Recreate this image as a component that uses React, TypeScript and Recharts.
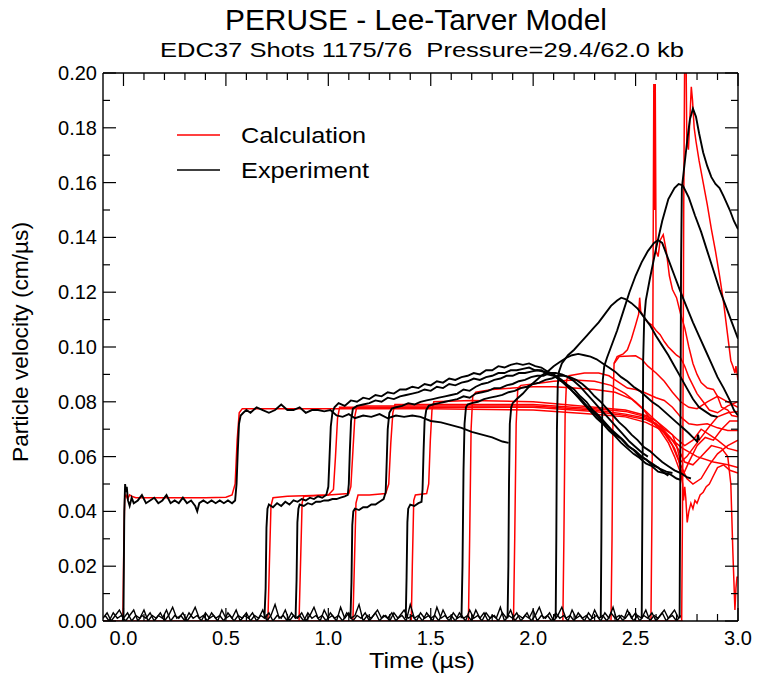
import React from "react";
import { LineChart, Line, XAxis, YAxis } from "recharts";

type P = [number, number];

const xTicks = [0, 0.1, 0.2, 0.3, 0.4, 0.5, 0.6, 0.7, 0.8, 0.9, 1.0, 1.1, 1.2, 1.3, 1.4, 1.5, 1.6, 1.7, 1.8, 1.9, 2.0, 2.1, 2.2, 2.3, 2.4, 2.5, 2.6, 2.7, 2.8, 2.9, 3.0];
const xMajor = [0, 0.5, 1.0, 1.5, 2.0, 2.5, 3.0];
const yTicks = [0, 0.01, 0.02, 0.03, 0.04, 0.05, 0.06, 0.07, 0.08, 0.09, 0.1, 0.11, 0.12, 0.13, 0.14, 0.15, 0.16, 0.17, 0.18, 0.19, 0.2];
const yMajor = [0, 0.02, 0.04, 0.06, 0.08, 0.1, 0.12, 0.14, 0.16, 0.18, 0.2];

// ---------- Experiment (black) ----------
const baseNoise: P[] = [
  [-0.1, 0.001], [-0.08, 0.003], [-0.06, 0], [-0.04, 0.002], [-0.02, 0.004], [0, 0.001], [0.02, 0.003], [0.04, 0], [0.06, 0.002], [0.08, 0.001],
  [0.1, 0.004], [0.12, 0], [0.14, 0.002], [0.16, 0.001], [0.18, 0.003], [0.2, 0], [0.22, 0.002], [0.24, 0.005], [0.26, 0.001], [0.28, 0.002],
  [0.3, 0], [0.32, 0.003], [0.34, 0.001], [0.36, 0.002], [0.38, 0], [0.4, 0.003], [0.42, 0.001], [0.44, 0.002], [0.46, 0], [0.48, 0.004],
  [0.5, 0.001], [0.52, 0.002], [0.54, 0], [0.56, 0.002], [0.58, 0.001], [0.6, 0.003], [0.62, 0], [0.64, 0.002], [0.66, 0.001], [0.68, 0.004],
  [0.7, 0], [0.72, 0.002], [0.74, 0.006], [0.76, 0.001], [0.78, 0.002], [0.8, 0], [0.82, 0.003], [0.84, 0.001], [0.86, 0.002], [0.88, 0],
  [0.9, 0.003], [0.92, 0.001], [0.94, 0.002], [0.96, 0], [0.98, 0.004], [1.0, 0.001], [1.02, 0.002], [1.04, 0], [1.06, 0.005], [1.08, 0.001],
  [1.1, 0.003], [1.12, 0], [1.14, 0.002], [1.16, 0.001], [1.18, 0.003], [1.2, 0], [1.22, 0.002], [1.24, 0.004], [1.26, 0.001], [1.28, 0.002],
  [1.3, 0], [1.32, 0.003], [1.34, 0.001], [1.36, 0.002], [1.38, 0], [1.4, 0.006], [1.42, 0.001], [1.44, 0.002], [1.46, 0], [1.48, 0.003],
  [1.5, 0.001], [1.52, 0.002], [1.54, 0], [1.56, 0.004], [1.58, 0.001], [1.6, 0.002], [1.62, 0], [1.64, 0.003], [1.66, 0.001], [1.68, 0.002],
  [1.7, 0], [1.72, 0.004], [1.74, 0.001], [1.76, 0.003], [1.78, 0], [1.8, 0.002], [1.82, 0.001], [1.84, 0.005], [1.86, 0], [1.88, 0.002],
  [1.9, 0.001], [1.92, 0.003], [1.94, 0], [1.96, 0.002], [1.98, 0.001], [2.0, 0.004], [2.02, 0], [2.04, 0.002], [2.06, 0.001], [2.08, 0.003],
  [2.1, 0], [2.12, 0.002], [2.14, 0.005], [2.16, 0.001], [2.18, 0.002], [2.2, 0], [2.22, 0.003], [2.24, 0.001], [2.26, 0.002], [2.28, 0],
  [2.3, 0.004], [2.32, 0.001], [2.34, 0.002], [2.36, 0], [2.38, 0.003], [2.4, 0.001], [2.42, 0.002], [2.44, 0], [2.46, 0.004], [2.48, 0.001],
  [2.5, 0.003], [2.52, 0], [2.54, 0.002], [2.56, 0.001], [2.58, 0.003], [2.6, 0], [2.62, 0.002], [2.64, 0.004], [2.66, 0.001], [2.68, 0.002],
  [2.7, 0], [2.72, 0.002],
];

const baseNoise2: P[] = [
  [-0.09, 0.002], [-0.07, 0], [-0.05, 0.003], [-0.03, 0.001], [-0.01, 0.002], [0.01, 0], [0.03, 0.002], [0.05, 0.004], [0.07, 0], [0.09, 0.002],
  [0.11, 0.001], [0.13, 0.003], [0.15, 0], [0.17, 0.002], [0.19, 0.001], [0.21, 0.004], [0.23, 0], [0.25, 0.002], [0.27, 0.001], [0.29, 0.003],
  [0.31, 0], [0.33, 0.002], [0.35, 0.005], [0.37, 0.001], [0.39, 0.002], [0.41, 0], [0.43, 0.003], [0.45, 0.001], [0.47, 0.002], [0.49, 0],
  [0.51, 0.003], [0.53, 0.001], [0.55, 0.004], [0.57, 0], [0.59, 0.002], [0.61, 0.001], [0.63, 0.003], [0.65, 0], [0.67, 0.002], [0.69, 0.001],
  [0.71, 0.003], [0.73, 0], [0.75, 0.002], [0.77, 0.001], [0.79, 0.004], [0.81, 0], [0.83, 0.002], [0.85, 0.001], [0.87, 0.003], [0.89, 0],
  [0.91, 0.002], [0.93, 0.005], [0.95, 0.001], [0.97, 0.002], [0.99, 0], [1.01, 0.003], [1.03, 0.001], [1.05, 0.002], [1.07, 0], [1.09, 0.003],
  [1.11, 0.001], [1.13, 0.002], [1.15, 0.006], [1.17, 0], [1.19, 0.002], [1.21, 0.001], [1.23, 0.003], [1.25, 0], [1.27, 0.002], [1.29, 0.001],
  [1.31, 0.003], [1.33, 0], [1.35, 0.002], [1.37, 0.004], [1.39, 0.001], [1.41, 0.002], [1.43, 0], [1.45, 0.003], [1.47, 0.001], [1.49, 0.002],
  [1.51, 0], [1.53, 0.005], [1.55, 0.001], [1.57, 0.002], [1.59, 0], [1.61, 0.003], [1.63, 0.001], [1.65, 0.002], [1.67, 0], [1.69, 0.004],
  [1.71, 0.001], [1.73, 0.002], [1.75, 0], [1.77, 0.003], [1.79, 0.001], [1.81, 0.002], [1.83, 0], [1.85, 0.003], [1.87, 0.001], [1.89, 0.004],
  [1.91, 0], [1.93, 0.002], [1.95, 0.001], [1.97, 0.003], [1.99, 0], [2.01, 0.002], [2.03, 0.005], [2.05, 0.001], [2.07, 0.002], [2.09, 0],
  [2.11, 0.003], [2.13, 0.001], [2.15, 0.002], [2.17, 0], [2.19, 0.004], [2.21, 0.001], [2.23, 0.002], [2.25, 0], [2.27, 0.003], [2.29, 0.001],
  [2.31, 0.002], [2.33, 0], [2.35, 0.003], [2.37, 0.001], [2.39, 0.005], [2.41, 0], [2.43, 0.002], [2.45, 0.001], [2.47, 0.003], [2.49, 0],
  [2.51, 0.002], [2.53, 0.001], [2.55, 0.004], [2.57, 0], [2.59, 0.002], [2.61, 0.001], [2.63, 0.003], [2.65, 0], [2.67, 0.002], [2.69, 0.004],
  [2.71, 0.001],
];

const exp1: P[] = [
  [-0.004, 0], [0, 0.002], [0.004, 0.04], [0.008, 0.05], [0.012, 0.047], [0.016, 0.049], [0.022, 0.044], [0.03, 0.042], [0.04, 0.045], [0.05, 0.043],
  [0.07, 0.044], [0.09, 0.046], [0.11, 0.043], [0.13, 0.044], [0.15, 0.045], [0.17, 0.043], [0.19, 0.044], [0.21, 0.046], [0.23, 0.043], [0.25, 0.044],
  [0.27, 0.043], [0.29, 0.045], [0.31, 0.043], [0.33, 0.044], [0.35, 0.042], [0.36, 0.040], [0.37, 0.043], [0.39, 0.044], [0.41, 0.043], [0.43, 0.044],
  [0.45, 0.043], [0.47, 0.044], [0.49, 0.043], [0.51, 0.044], [0.53, 0.043], [0.545, 0.044], [0.552, 0.05], [0.558, 0.062], [0.564, 0.072], [0.572, 0.075],
  [0.585, 0.076], [0.6, 0.077], [0.62, 0.076], [0.65, 0.078], [0.68, 0.077], [0.71, 0.076], [0.74, 0.077], [0.77, 0.079], [0.8, 0.077], [0.83, 0.077],
  [0.86, 0.078], [0.89, 0.076], [0.92, 0.077], [0.95, 0.077], [0.98, 0.0765], [1.01, 0.077], [1.04, 0.075], [1.07, 0.0745], [1.1, 0.0755], [1.13, 0.074],
  [1.17, 0.075], [1.21, 0.0745], [1.25, 0.0755], [1.29, 0.074], [1.33, 0.075], [1.37, 0.0745], [1.41, 0.075], [1.45, 0.0745], [1.5, 0.073], [1.55, 0.0725],
  [1.6, 0.0715], [1.65, 0.0705], [1.7, 0.069], [1.75, 0.068], [1.8, 0.067], [1.85, 0.0655], [1.88, 0.065],
];

const exp2: P[] = [
  [0.688, 0.001], [0.694, 0.012], [0.698, 0.034], [0.703, 0.041], [0.71, 0.0425], [0.73, 0.0415], [0.75, 0.043], [0.77, 0.042], [0.79, 0.0435], [0.81, 0.0425],
  [0.83, 0.044], [0.85, 0.0435], [0.87, 0.0445], [0.89, 0.044], [0.91, 0.045], [0.93, 0.0445], [0.95, 0.0455], [0.97, 0.045], [0.99, 0.046], [1.0, 0.049],
  [1.006, 0.06], [1.012, 0.071], [1.02, 0.076], [1.03, 0.078], [1.05, 0.0795], [1.08, 0.0785], [1.11, 0.0805], [1.14, 0.08], [1.17, 0.0815], [1.2, 0.081],
  [1.23, 0.0825], [1.26, 0.082], [1.29, 0.0835], [1.32, 0.083], [1.35, 0.0845], [1.38, 0.0845], [1.41, 0.0855], [1.44, 0.085], [1.47, 0.0865], [1.5, 0.086],
  [1.53, 0.0875], [1.56, 0.087], [1.59, 0.0885], [1.62, 0.088], [1.65, 0.089], [1.68, 0.0895], [1.71, 0.0905], [1.74, 0.09], [1.77, 0.0915], [1.8, 0.0915],
  [1.83, 0.093], [1.86, 0.0925], [1.89, 0.0935], [1.92, 0.094], [1.95, 0.0935], [1.98, 0.094], [2.01, 0.093], [2.04, 0.0925], [2.07, 0.091], [2.1, 0.09],
  [2.13, 0.088], [2.16, 0.0865], [2.19, 0.084], [2.22, 0.082], [2.25, 0.0795], [2.28, 0.077], [2.31, 0.075], [2.34, 0.0725], [2.37, 0.0705], [2.4, 0.068],
  [2.43, 0.0665], [2.46, 0.064], [2.49, 0.0625], [2.52, 0.06], [2.55, 0.059], [2.58, 0.057], [2.61, 0.056], [2.64, 0.054], [2.67, 0.0535], [2.7, 0.052], [2.72, 0.0515],
];

const exp3: P[] = [
  [0.84, 0.001], [0.845, 0.015], [0.849, 0.036], [0.854, 0.041], [0.86, 0.0425], [0.88, 0.042], [0.9, 0.043], [0.92, 0.0425], [0.94, 0.0435], [0.96, 0.0435],
  [0.98, 0.044], [1.0, 0.044], [1.02, 0.0445], [1.04, 0.0445], [1.06, 0.045], [1.08, 0.0455], [1.095, 0.046], [1.1, 0.05], [1.105, 0.062], [1.111, 0.073],
  [1.12, 0.0775], [1.14, 0.0785], [1.17, 0.079], [1.2, 0.0795], [1.23, 0.0805], [1.26, 0.08], [1.29, 0.0815], [1.32, 0.081], [1.35, 0.082], [1.38, 0.0825],
  [1.41, 0.083], [1.44, 0.0835], [1.47, 0.0845], [1.5, 0.084], [1.53, 0.0855], [1.56, 0.085], [1.59, 0.0865], [1.62, 0.086], [1.65, 0.087], [1.68, 0.0875],
  [1.71, 0.0885], [1.74, 0.088], [1.77, 0.089], [1.8, 0.0895], [1.83, 0.0905], [1.86, 0.0905], [1.89, 0.0915], [1.92, 0.0915], [1.95, 0.092], [1.98, 0.0925],
  [2.01, 0.0915], [2.04, 0.0915], [2.07, 0.09], [2.1, 0.0895], [2.13, 0.088], [2.16, 0.086], [2.19, 0.084], [2.22, 0.0815], [2.25, 0.079], [2.28, 0.0765],
  [2.31, 0.074], [2.34, 0.072], [2.37, 0.0695], [2.4, 0.0675], [2.43, 0.065], [2.46, 0.063], [2.49, 0.061], [2.52, 0.0595], [2.55, 0.0575], [2.58, 0.0565],
  [2.61, 0.0545], [2.64, 0.054], [2.66, 0.053],
];

const exp4: P[] = [
  [1.108, 0.001], [1.113, 0.014], [1.117, 0.035], [1.122, 0.04], [1.13, 0.041], [1.15, 0.0405], [1.17, 0.0415], [1.19, 0.0415], [1.21, 0.0425], [1.23, 0.0425],
  [1.25, 0.0435], [1.27, 0.0445], [1.28, 0.047], [1.285, 0.058], [1.29, 0.07], [1.298, 0.076], [1.31, 0.0775], [1.33, 0.078], [1.36, 0.0785], [1.39, 0.0795],
  [1.42, 0.079], [1.45, 0.08], [1.48, 0.0805], [1.51, 0.081], [1.54, 0.0815], [1.57, 0.082], [1.6, 0.0825], [1.63, 0.083], [1.66, 0.0845], [1.69, 0.084],
  [1.72, 0.0855], [1.75, 0.0865], [1.78, 0.087], [1.81, 0.088], [1.84, 0.0885], [1.87, 0.0895], [1.9, 0.0895], [1.93, 0.0905], [1.96, 0.0905], [1.99, 0.091],
  [2.02, 0.0915], [2.05, 0.091], [2.08, 0.0905], [2.11, 0.0895], [2.14, 0.088], [2.17, 0.086], [2.2, 0.0845], [2.23, 0.082], [2.26, 0.08], [2.29, 0.077],
  [2.32, 0.075], [2.35, 0.0725], [2.38, 0.07], [2.41, 0.068], [2.44, 0.066], [2.47, 0.0635], [2.5, 0.062], [2.53, 0.06], [2.56, 0.0585], [2.59, 0.057],
  [2.62, 0.0555], [2.65, 0.0545], [2.68, 0.054],
];

const exp5: P[] = [
  [1.378, 0.001], [1.382, 0.016], [1.386, 0.036], [1.39, 0.041], [1.4, 0.0425], [1.42, 0.042], [1.44, 0.043], [1.455, 0.0435], [1.46, 0.048], [1.465, 0.062],
  [1.47, 0.073], [1.478, 0.077], [1.49, 0.0785], [1.51, 0.079], [1.54, 0.0795], [1.57, 0.08], [1.6, 0.0805], [1.63, 0.081], [1.66, 0.082], [1.69, 0.0815],
  [1.72, 0.083], [1.75, 0.0835], [1.78, 0.084], [1.81, 0.085], [1.84, 0.085], [1.87, 0.086], [1.9, 0.0865], [1.93, 0.0875], [1.96, 0.088], [1.99, 0.089],
  [2.02, 0.0895], [2.05, 0.0895], [2.08, 0.0905], [2.11, 0.0905], [2.14, 0.09], [2.17, 0.089], [2.2, 0.0875], [2.23, 0.0855], [2.26, 0.083], [2.29, 0.0805],
  [2.32, 0.078], [2.35, 0.0755], [2.38, 0.073], [2.41, 0.0705], [2.44, 0.068], [2.47, 0.0655], [2.5, 0.0635], [2.53, 0.0615], [2.56, 0.06],
];

const exp6: P[] = [
  [1.65, 0.001], [1.655, 0.02], [1.66, 0.055], [1.665, 0.072], [1.672, 0.078], [1.68, 0.079], [1.7, 0.0795], [1.73, 0.08], [1.76, 0.081], [1.79, 0.0815],
  [1.82, 0.082], [1.85, 0.0825], [1.88, 0.0835], [1.91, 0.084], [1.94, 0.085], [1.97, 0.0855], [2.0, 0.0865], [2.03, 0.087], [2.06, 0.088], [2.09, 0.0885],
  [2.12, 0.0895], [2.15, 0.0895], [2.18, 0.089], [2.21, 0.088], [2.24, 0.0865], [2.27, 0.0845], [2.3, 0.082], [2.33, 0.08], [2.36, 0.0775], [2.39, 0.075],
  [2.42, 0.0725], [2.45, 0.0705], [2.48, 0.068], [2.51, 0.066], [2.54, 0.0635], [2.57, 0.062], [2.6, 0.06], [2.63, 0.058], [2.66, 0.0565], [2.69, 0.055],
  [2.72, 0.054], [2.75, 0.0525], [2.77, 0.052],
];

const exp7: P[] = [
  [1.875, 0.001], [1.879, 0.02], [1.882, 0.05], [1.886, 0.072], [1.893, 0.078], [1.9, 0.0795], [1.92, 0.081], [1.95, 0.083], [1.98, 0.0855], [2.01, 0.0875],
  [2.04, 0.0895], [2.07, 0.091], [2.1, 0.093], [2.13, 0.0945], [2.16, 0.096], [2.19, 0.097], [2.22, 0.0975], [2.25, 0.097], [2.28, 0.0965], [2.31, 0.0955],
  [2.34, 0.094], [2.37, 0.0925], [2.4, 0.091], [2.43, 0.089], [2.46, 0.0875], [2.49, 0.0855], [2.52, 0.084], [2.55, 0.082], [2.58, 0.08], [2.61, 0.0785],
  [2.64, 0.0765], [2.67, 0.0745], [2.7, 0.0725], [2.73, 0.0705], [2.76, 0.0685], [2.78, 0.067], [2.8, 0.0655], [2.805, 0.068], [2.81, 0.066],
];

const exp8: P[] = [
  [2.11, 0.001], [2.113, 0.03], [2.116, 0.07], [2.12, 0.086], [2.126, 0.091], [2.14, 0.094], [2.17, 0.097], [2.2, 0.099], [2.23, 0.1015], [2.26, 0.104],
  [2.29, 0.1065], [2.32, 0.109], [2.35, 0.112], [2.38, 0.115], [2.41, 0.117], [2.43, 0.118], [2.45, 0.1175], [2.48, 0.116], [2.51, 0.114], [2.54, 0.111],
  [2.57, 0.108], [2.6, 0.104], [2.63, 0.1005], [2.66, 0.097], [2.69, 0.093], [2.72, 0.089], [2.75, 0.085], [2.78, 0.081], [2.81, 0.078], [2.84, 0.0765],
  [2.87, 0.075], [2.9, 0.0745],
];

const exp9: P[] = [
  [2.33, 0.001], [2.333, 0.03], [2.336, 0.07], [2.34, 0.088], [2.347, 0.093], [2.36, 0.096], [2.38, 0.1], [2.41, 0.106], [2.44, 0.113], [2.47, 0.12],
  [2.5, 0.126], [2.53, 0.131], [2.56, 0.135], [2.59, 0.138], [2.61, 0.139], [2.63, 0.138], [2.66, 0.132], [2.69, 0.126], [2.72, 0.12], [2.75, 0.1145],
  [2.78, 0.109], [2.81, 0.104], [2.84, 0.099], [2.87, 0.094], [2.9, 0.089], [2.93, 0.085], [2.96, 0.0805], [2.98, 0.077], [3.0, 0.075],
];

const exp10: P[] = [
  [2.53, 0.001], [2.533, 0.04], [2.537, 0.095], [2.542, 0.11], [2.55, 0.117], [2.57, 0.125], [2.6, 0.136], [2.63, 0.146], [2.66, 0.154], [2.69, 0.158],
  [2.71, 0.1595], [2.73, 0.159], [2.76, 0.1545], [2.79, 0.148], [2.82, 0.142], [2.85, 0.135], [2.88, 0.128], [2.91, 0.121], [2.94, 0.115], [2.97, 0.109], [3.0, 0.103],
];

const exp11: P[] = [
  [2.715, 0.001], [2.718, 0.05], [2.722, 0.13], [2.726, 0.158], [2.735, 0.164], [2.75, 0.174], [2.765, 0.183], [2.78, 0.187], [2.795, 0.184], [2.81, 0.178],
  [2.83, 0.171], [2.85, 0.166], [2.87, 0.162], [2.89, 0.1595], [2.91, 0.158], [2.93, 0.155], [2.96, 0.15], [2.98, 0.146], [3.0, 0.143],
];

// ---------- Calculation (red) ----------
const calcBase: P[] = [[-0.1, 0], [2.73, 0]];

const calc1: P[] = [
  [-0.003, 0], [0.002, 0.03], [0.006, 0.045], [0.012, 0.046], [0.02, 0.0445], [0.03, 0.046], [0.04, 0.0455], [0.06, 0.045], [0.2, 0.045], [0.4, 0.045],
  [0.5, 0.0452], [0.53, 0.046], [0.545, 0.05], [0.555, 0.066], [0.565, 0.076], [0.58, 0.0775], [1.0, 0.0775], [1.5, 0.0775], [2.0, 0.077], [2.3, 0.0755],
  [2.45, 0.0745], [2.55, 0.0725], [2.62, 0.07], [2.68, 0.066], [2.73, 0.063], [2.8, 0.06], [2.88, 0.058], [2.95, 0.057], [3.0, 0.056],
];

const calc2: P[] = [
  [0.705, 0], [0.712, 0.02], [0.72, 0.042], [0.73, 0.045], [0.8, 0.0455], [1.0, 0.046], [1.025, 0.048], [1.035, 0.06], [1.045, 0.074], [1.055, 0.078],
  [1.5, 0.078], [2.0, 0.078], [2.3, 0.0765], [2.45, 0.075], [2.55, 0.0735], [2.62, 0.071], [2.67, 0.067], [2.71, 0.0625], [2.74, 0.058], [2.78, 0.057],
  [2.82, 0.06], [2.87, 0.064], [2.92, 0.063], [2.95, 0.06], [2.965, 0.05], [2.975, 0.025], [2.985, 0.004], [2.99, 0.012], [2.995, 0.016], [3.0, 0.016],
];

const calc3: P[] = [
  [0.857, 0], [0.864, 0.02], [0.872, 0.043], [0.88, 0.0455], [1.0, 0.046], [1.1, 0.0465], [1.11, 0.049], [1.12, 0.062], [1.13, 0.075], [1.14, 0.0785],
  [1.5, 0.0785], [2.0, 0.0785], [2.3, 0.077], [2.45, 0.0755], [2.55, 0.074], [2.6, 0.072], [2.65, 0.068], [2.69, 0.063], [2.72, 0.057], [2.75, 0.052],
  [2.78, 0.05], [2.82, 0.052], [2.86, 0.057], [2.9, 0.061], [2.95, 0.064], [3.0, 0.066],
];

const calc4: P[] = [
  [1.12, 0], [1.127, 0.02], [1.135, 0.043], [1.145, 0.046], [1.2, 0.046], [1.28, 0.0465], [1.295, 0.05], [1.305, 0.065], [1.315, 0.076], [1.325, 0.079],
  [1.5, 0.079], [2.0, 0.079], [2.3, 0.0775], [2.45, 0.0765], [2.55, 0.0745], [2.6, 0.072], [2.64, 0.0685], [2.68, 0.064], [2.71, 0.0585], [2.73, 0.053],
  [2.76, 0.058], [2.8, 0.064], [2.84, 0.067], [2.88, 0.066], [2.92, 0.07], [2.96, 0.073], [3.0, 0.073],
];

const calc5: P[] = [
  [1.405, 0], [1.41, 0.02], [1.417, 0.044], [1.425, 0.046], [1.48, 0.0465], [1.49, 0.05], [1.498, 0.066], [1.506, 0.077], [1.515, 0.08], [1.7, 0.0805],
  [2.0, 0.08], [2.3, 0.078], [2.45, 0.077], [2.55, 0.075], [2.6, 0.073], [2.65, 0.07], [2.7, 0.0665], [2.74, 0.064], [2.78, 0.066], [2.82, 0.07],
  [2.86, 0.068], [2.9, 0.066], [2.95, 0.063], [3.0, 0.062],
];

const calc6: P[] = [
  [1.684, 0], [1.69, 0.03], [1.697, 0.07], [1.705, 0.082], [1.72, 0.0835], [1.8, 0.0845], [1.9, 0.085], [2.0, 0.0855], [2.1, 0.0855], [2.2, 0.085],
  [2.3, 0.0845], [2.4, 0.0835], [2.48, 0.081], [2.54, 0.077], [2.58, 0.073], [2.62, 0.0695], [2.66, 0.065], [2.69, 0.06], [2.72, 0.054], [2.73, 0.05],
  [2.734, 0.044], [2.74, 0.049], [2.745, 0.045], [2.752, 0.036], [2.76, 0.04], [2.77, 0.043], [2.78, 0.041], [2.79, 0.044], [2.8, 0.043], [2.815, 0.046],
  [2.83, 0.047], [2.845, 0.049], [2.86, 0.05], [2.88, 0.053], [2.9, 0.056], [2.93, 0.057], [2.96, 0.055], [3.0, 0.054],
];

const calc7: P[] = [
  [1.904, 0], [1.91, 0.03], [1.917, 0.072], [1.925, 0.085], [1.94, 0.086], [2.0, 0.0865], [2.1, 0.0875], [2.2, 0.088], [2.3, 0.0875], [2.38, 0.086],
  [2.45, 0.083], [2.5, 0.08], [2.55, 0.0765], [2.6, 0.073], [2.64, 0.07], [2.68, 0.068], [2.7, 0.064], [2.72, 0.058], [2.75, 0.06], [2.78, 0.063],
  [2.82, 0.067], [2.86, 0.071], [2.9, 0.0745], [2.95, 0.076], [3.0, 0.0765],
];

const calc8: P[] = [
  [2.145, 0], [2.15, 0.03], [2.156, 0.075], [2.163, 0.088], [2.175, 0.0895], [2.25, 0.0905], [2.32, 0.0905], [2.37, 0.0895], [2.42, 0.087], [2.46, 0.085],
  [2.5, 0.0845], [2.54, 0.0835], [2.57, 0.0825], [2.6, 0.0815], [2.64, 0.0805], [2.68, 0.078], [2.72, 0.0745], [2.76, 0.072], [2.8, 0.0715], [2.85, 0.072],
  [2.9, 0.0705], [2.95, 0.0695], [3.0, 0.0695],
];

const calc9: P[] = [
  [2.38, 0], [2.385, 0.03], [2.39, 0.08], [2.395, 0.094], [2.41, 0.0965], [2.44, 0.0975], [2.46, 0.099], [2.48, 0.103], [2.5, 0.108], [2.515, 0.112],
  [2.52, 0.118], [2.525, 0.113], [2.54, 0.111], [2.56, 0.109], [2.58, 0.108], [2.6, 0.106], [2.62, 0.1045], [2.64, 0.102], [2.66, 0.1], [2.68, 0.0985],
  [2.7, 0.097], [2.72, 0.096], [2.74, 0.093], [2.76, 0.089], [2.78, 0.086], [2.8, 0.083], [2.83, 0.08], [2.86, 0.077], [2.9, 0.076], [2.95, 0.0785], [3.0, 0.08],
];

const calc9b: P[] = [
  [2.395, 0.094], [2.42, 0.0965], [2.5, 0.0968], [2.53, 0.0955], [2.56, 0.093], [2.6, 0.0905], [2.64, 0.0875], [2.68, 0.0835], [2.72, 0.08], [2.76, 0.078],
  [2.8, 0.0775], [2.85, 0.08], [2.9, 0.082], [2.95, 0.08], [3.0, 0.078],
];

const calc10: P[] = [
  [2.575, 0], [2.58, 0.04], [2.585, 0.12], [2.589, 0.196], [2.593, 0.15], [2.596, 0.196], [2.6, 0.135], [2.61, 0.133], [2.62, 0.139], [2.635, 0.141],
  [2.65, 0.135], [2.665, 0.126], [2.68, 0.121], [2.7, 0.118], [2.72, 0.112], [2.74, 0.107], [2.76, 0.1], [2.78, 0.094], [2.8, 0.09], [2.82, 0.087],
  [2.85, 0.085], [2.88, 0.0845], [2.9, 0.082], [2.92, 0.078], [2.95, 0.077], [2.97, 0.075], [3.0, 0.0745],
];

const calc11: P[] = [
  [2.725, 0], [2.73, 0.05], [2.735, 0.15], [2.74, 0.21], [2.746, 0.21], [2.75, 0.175], [2.758, 0.172], [2.766, 0.185], [2.772, 0.195], [2.778, 0.19],
  [2.786, 0.18], [2.795, 0.175], [2.81, 0.168], [2.83, 0.16], [2.85, 0.152], [2.87, 0.143], [2.89, 0.135], [2.91, 0.126], [2.93, 0.116], [2.95, 0.104],
  [2.965, 0.095], [2.975, 0.093], [2.985, 0.0905], [2.99, 0.093], [3.0, 0.088],
];

const toPts = (a: P[]) => a.map(([t, v]) => ({ t, v }));

const redSeries = [calcBase, calc1, calc2, calc3, calc4, calc5, calc6, calc7, calc8, calc9, calc9b, calc10, calc11].map(toPts);
const noiseSeries = [baseNoise, baseNoise2].map(toPts);
const blackSeries = [exp1, exp2, exp3, exp4, exp5, exp6, exp7, exp8, exp9, exp10, exp11].map(toPts);

const FONT = "'Liberation Sans', Arial, Helvetica, sans-serif";
const MAJ = 13;
const MIN = 7;

const LeftTick = (p: any) => {
  const { x, y, payload } = p;
  const v = payload.value;
  const major = yMajor.includes(v);
  return (
    <g>
      <line x1={x} y1={y} x2={x + (major ? MAJ : MIN)} y2={y} stroke="#000" strokeWidth={1.2} />
      {major && (
        <text x={x - 6} y={y} textAnchor="end" dominantBaseline="central" fontSize={20} fontFamily={FONT} fill="#000">
          {v.toFixed(2)}
        </text>
      )}
    </g>
  );
};

const RightTick = (p: any) => {
  const { x, y, payload } = p;
  const major = yMajor.includes(payload.value);
  return <line x1={x} y1={y} x2={x - (major ? MAJ : MIN)} y2={y} stroke="#000" strokeWidth={1.2} />;
};

const BottomTick = (p: any) => {
  const { x, y, payload } = p;
  const v = payload.value;
  const major = xMajor.includes(v);
  return (
    <g>
      <line x1={x} y1={y} x2={x} y2={y - (major ? MAJ : MIN)} stroke="#000" strokeWidth={1.2} />
      {major && (
        <text x={x} y={y + 24} textAnchor="middle" fontSize={20} fontFamily={FONT} fill="#000">
          {v.toFixed(1)}
        </text>
      )}
    </g>
  );
};

const TopTick = (p: any) => {
  const { x, y, payload } = p;
  const major = xMajor.includes(payload.value);
  return <line x1={x} y1={y} x2={x} y2={y + (major ? MAJ : MIN)} stroke="#000" strokeWidth={1.2} />;
};

export default function App() {
  const axisLine = { stroke: "#000", strokeWidth: 1.4 };
  return (
    <div style={{ position: "absolute", left: 0, top: 0, width: 761, height: 680, background: "#fff" }}>
      <LineChart width={761} height={680} margin={{ top: 0, right: 0, bottom: 0, left: 0 }}>
        <XAxis
          xAxisId="b"
          type="number"
          dataKey="t"
          domain={[-0.1, 3.0]}
          allowDataOverflow
          ticks={xTicks}
          interval={0}
          height={59}
          tickSize={0}
          tickMargin={0}
          tickLine={false}
          axisLine={axisLine}
          tick={BottomTick}
        />
        <XAxis
          xAxisId="t"
          orientation="top"
          type="number"
          dataKey="t"
          domain={[-0.1, 3.0]}
          allowDataOverflow
          ticks={xTicks}
          interval={0}
          height={73}
          tickSize={0}
          tickMargin={0}
          tickLine={false}
          axisLine={axisLine}
          tick={TopTick}
        />
        <YAxis
          yAxisId="l"
          type="number"
          domain={[0, 0.2]}
          allowDataOverflow
          ticks={yTicks}
          interval={0}
          width={103}
          tickSize={0}
          tickMargin={0}
          tickLine={false}
          axisLine={axisLine}
          tick={LeftTick}
        />
        <YAxis
          yAxisId="r"
          orientation="right"
          type="number"
          domain={[0, 0.2]}
          allowDataOverflow
          ticks={yTicks}
          interval={0}
          width={23}
          tickSize={0}
          tickMargin={0}
          tickLine={false}
          axisLine={axisLine}
          tick={RightTick}
        />
        {redSeries.map((d, i) => (
          <Line
            key={"c" + i}
            data={d}
            dataKey="v"
            xAxisId="b"
            yAxisId="l"
            type="linear"
            stroke="#ff0000"
            strokeWidth={1.5}
            dot={false}
            activeDot={false}
            isAnimationActive={false}
          />
        ))}
        {noiseSeries.map((d, i) => (
          <Line
            key={"n" + i}
            data={d}
            dataKey="v"
            xAxisId="b"
            yAxisId="l"
            type="linear"
            stroke="#000"
            strokeWidth={1.4}
            dot={false}
            activeDot={false}
            isAnimationActive={false}
          />
        ))}
        {blackSeries.map((d, i) => (
          <Line
            key={"e" + i}
            data={d}
            dataKey="v"
            xAxisId="b"
            yAxisId="l"
            type="linear"
            stroke="#000"
            strokeWidth={1.9}
            dot={false}
            activeDot={false}
            isAnimationActive={false}
          />
        ))}
      </LineChart>
      <svg
        width={761}
        height={680}
        style={{ position: "absolute", left: 0, top: 0, pointerEvents: "none" }}
        fontFamily={FONT}
      >
        <text x={416} y={30} textAnchor="middle" fontSize={29} textLength={382} lengthAdjust="spacingAndGlyphs">
          PERUSE - Lee-Tarver Model
        </text>
        <text x={422} y={57} textAnchor="middle" fontSize={21} textLength={524} lengthAdjust="spacingAndGlyphs" style={{ whiteSpace: "pre" }}>
          EDC37 Shots 1175/76  Pressure=29.4/62.0 kb
        </text>
        <line x1={177} y1={135} x2={220} y2={135} stroke="#ff0000" strokeWidth={1.5} />
        <text x={241} y={143} fontSize={22} textLength={125} lengthAdjust="spacingAndGlyphs">
          Calculation
        </text>
        <line x1={177} y1={170} x2={220} y2={170} stroke="#000" strokeWidth={1.5} />
        <text x={241} y={178} fontSize={22} textLength={128} lengthAdjust="spacingAndGlyphs">
          Experiment
        </text>
        <text x={422} y={668} textAnchor="middle" fontSize={22} textLength={106} lengthAdjust="spacingAndGlyphs">
          Time (µs)
        </text>
        <text
          x={0}
          y={0}
          transform="translate(28,342) rotate(-90)"
          textAnchor="middle"
          fontSize={22}
          textLength={240}
          lengthAdjust="spacingAndGlyphs"
        >
          Particle velocity (cm/µs)
        </text>
      </svg>
    </div>
  );
}
